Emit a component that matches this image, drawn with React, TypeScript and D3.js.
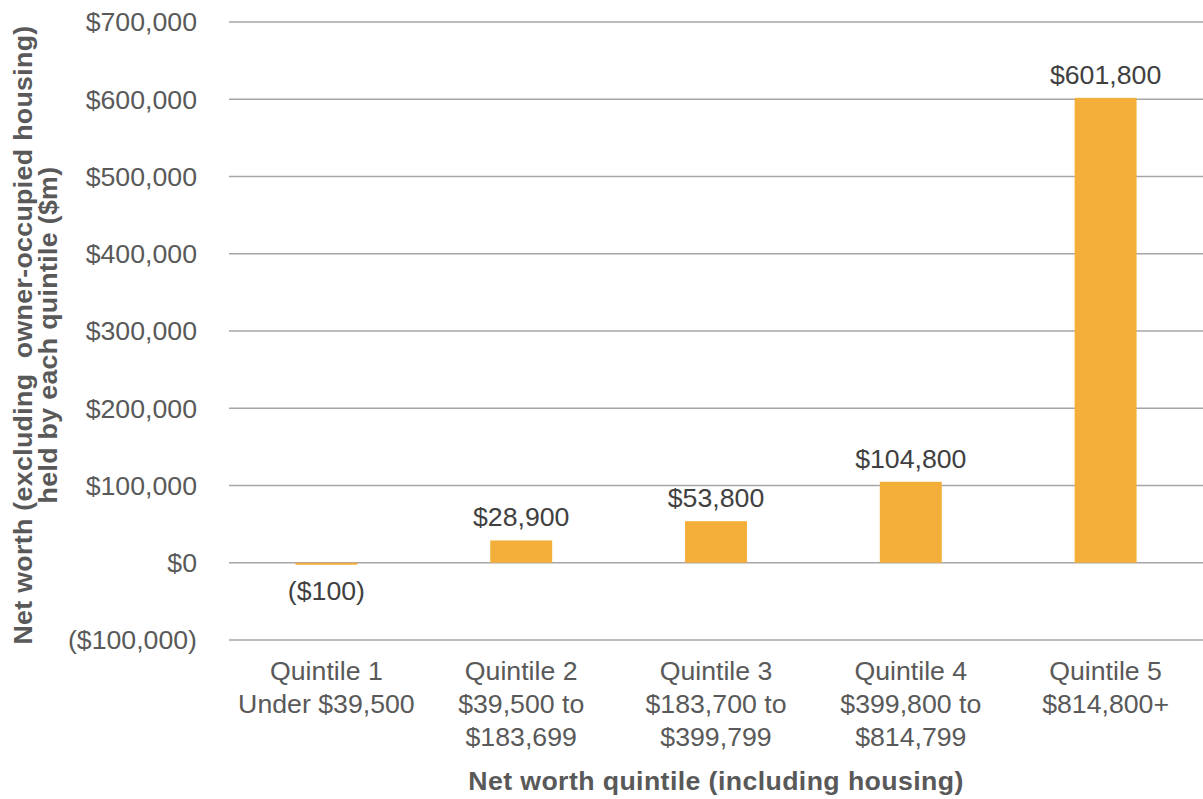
import React from "react";
import * as d3 from "d3";

const categoriesLine1 = ["Quintile 1", "Quintile 2", "Quintile 3", "Quintile 4", "Quintile 5"];
const categoriesLine2 = ["Under $39,500", "$39,500 to", "$183,700 to", "$399,800 to", "$814,800+"];
const categoriesLine3 = ["", "$183,699", "$399,799", "$814,799", ""];
const values = [-100, 28900, 53800, 104800, 601800];
const valueLabels = ["($100)", "$28,900", "$53,800", "$104,800", "$601,800"];
const yTicks = [-100000, 0, 100000, 200000, 300000, 400000, 500000, 600000, 700000];
const yTitle1 = "Net worth (excluding  owner-occupied housing)";
const yTitle2 = "held by each quintile ($m)";
const xTitle = "Net worth quintile (including housing)";

const W = 1203;
const H = 799;
const FONT = "'Liberation Sans', Arial, sans-serif";

function fmtTick(v: number) {
  const s = "$" + d3.format(",")(Math.abs(v));
  return v < 0 ? `(${s})` : s;
}

export default function App() {
  const left = 229;
  const right = 1203;
  const top = 22;
  const bottom = 640;
  const x = d3.scaleBand<number>().domain(d3.range(values.length)).range([left, right]).padding(0);
  const y = d3.scaleLinear().domain([-100000, 700000]).range([bottom, top]);
  const barW = x.bandwidth() * 0.318;
  const fs = 26.7;

  return (
    <svg width={W} height={H} style={{ position: "absolute", left: 0, top: 0, background: "#fff" }} fontFamily={FONT}>
      {yTicks.map((t) => (
        <g key={t}>
          <line x1={left} x2={right} y1={y(t)} y2={y(t)} stroke="#a6a6a6" strokeWidth={1.3} />
          <text x={197} y={y(t)} dy="0.35em" textAnchor="end" fontSize={fs} fill="#595959">
            {fmtTick(t)}
          </text>
        </g>
      ))}
      {values.map((v, i) => {
        const cx = (x(i) as number) + x.bandwidth() / 2;
        const y0 = y(0);
        const yv = y(v);
        let h = Math.abs(yv - y0);
        const yTop = v >= 0 ? yv : y0;
        if (h < 2) h = 2;
        return (
          <g key={i}>
            <rect x={cx - barW / 2} y={yTop} width={barW} height={h} fill="#f3af3a" />
            <text
              x={cx}
              y={v >= 0 ? yv - 14 : y0 + h + 35}
              textAnchor="middle"
              fontSize={fs}
              fill="#404040"
            >
              {valueLabels[i]}
            </text>
            <text x={cx} y={680} textAnchor="middle" fontSize={fs} fill="#595959">
              {categoriesLine1[i]}
            </text>
            <text x={cx} y={713} textAnchor="middle" fontSize={fs} fill="#595959">
              {categoriesLine2[i]}
            </text>
            {categoriesLine3[i] && (
              <text x={cx} y={746} textAnchor="middle" fontSize={fs} fill="#595959">
                {categoriesLine3[i]}
              </text>
            )}
          </g>
        );
      })}
      <text x={716} y={790} textAnchor="middle" fontSize={fs} fontWeight="bold" fill="#595959" letterSpacing={0.4}>
        {xTitle}
      </text>
      <text transform={`translate(32,335) rotate(-90)`} textAnchor="middle" fontSize={fs} fontWeight="bold" fill="#595959" letterSpacing={0.35} style={{ whiteSpace: "pre" }}>
        {yTitle1}
      </text>
      <text transform={`translate(57,335) rotate(-90)`} textAnchor="middle" fontSize={fs} fontWeight="bold" fill="#595959" letterSpacing={0.35}>
        {yTitle2}
      </text>
    </svg>
  );
}
